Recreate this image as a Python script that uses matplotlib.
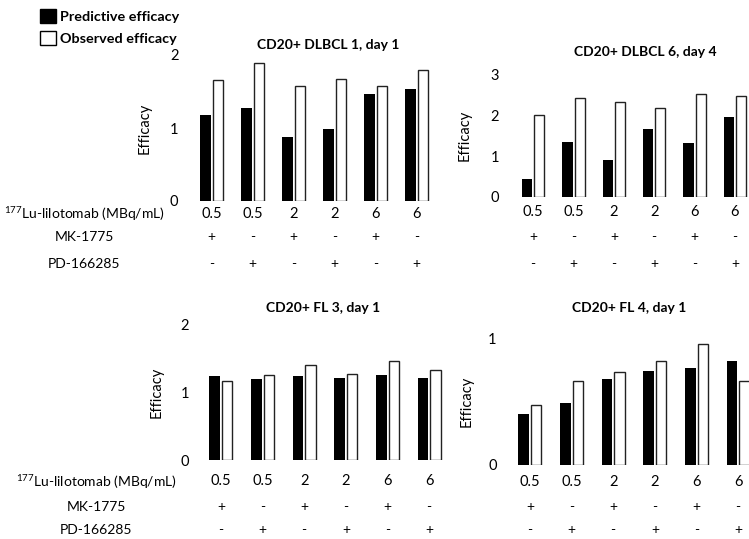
import numpy as np
import matplotlib
matplotlib.use("Agg")
import matplotlib.pyplot as plt
import matplotlib.transforms as mtransforms
from matplotlib.patches import Patch

plt.rcParams['font.family'] = ['Lato', 'DejaVu Sans']
plt.rcParams['mathtext.default'] = 'regular'

# treatment rows under each panel
doses = ['0.5', '0.5', '2', '2', '6', '6']
mk1775 = ['+', '-', '+', '-', '+', '-']
pd166285 = ['-', '+', '-', '+', '-', '+']

# efficacy
dlbcl1_pred = [1.18, 1.28, 0.88, 0.99, 1.47, 1.54]
dlbcl1_obs = [1.66, 1.89, 1.57, 1.67, 1.58, 1.80]
dlbcl6_pred = [0.43, 1.33, 0.90, 1.65, 1.31, 1.96]
dlbcl6_obs = [1.99, 2.41, 2.32, 2.18, 2.51, 2.47]
fl3_pred = [1.23, 1.19, 1.24, 1.20, 1.25, 1.21]
fl3_obs = [1.16, 1.25, 1.39, 1.27, 1.46, 1.32]
fl4_pred = [0.40, 0.49, 0.68, 0.74, 0.76, 0.82]
fl4_obs = [0.47, 0.66, 0.73, 0.82, 0.95, 0.66]

W, H = 749, 539
fig = plt.figure(figsize=(W/100, H/100), dpi=100)

def fx(x):
    return x / W

def fy(y):
    return 1 - y / H

def panel(left, top, width, height, pred, obs, ymax, title, title_xy,
          ylab_x, tick_pad, xlab_pad, row_y):
    ax = fig.add_axes([fx(left), fy(top + height), width / W, height / H])
    x = np.arange(len(pred))
    ax.bar(x - 0.15, pred, 0.26, color='black')
    ax.bar(x + 0.15, obs, 0.25, color='white', edgecolor='#222222', linewidth=1)
    ax.set_xlim(-0.5, 5.5)
    ax.set_ylim(0, ymax)
    ax.set_yticks(range(ymax + 1))
    ax.set_xticks(x, doses)
    ax.tick_params(axis='y', length=0, pad=tick_pad, labelsize=10.5)
    ax.tick_params(axis='x', length=0, pad=xlab_pad, labelsize=10.5)
    for s in ax.spines.values():
        s.set_visible(False)
    ax.set_ylabel('Efficacy', fontsize=10.5)
    ax.yaxis.set_label_coords((ylab_x - left) / width, 0.5)
    fig.text(fx(title_xy[0]), fy(title_xy[1]), title, ha='center', va='center',
             fontsize=10, fontweight='bold')
    trans = mtransforms.blended_transform_factory(ax.transData, fig.transFigure)
    for i in range(len(x)):
        ax.text(x[i], fy(row_y[0]), mk1775[i], transform=trans, ha='center',
                va='center', fontsize=10)
        ax.text(x[i], fy(row_y[1]), pd166285[i], transform=trans, ha='center',
                va='center', fontsize=10)
    return ax

panel(191, 55, 246, 146, dlbcl1_pred, dlbcl1_obs, 2, 'CD20+ DLBCL 1, day 1',
      (328, 45), 152, 9, 4, (237, 264))
panel(513, 74, 242, 123, dlbcl6_pred, dlbcl6_obs, 3, 'CD20+ DLBCL 6, day 4',
      (645, 52), 472, 10, 6, (237, 264))
panel(200, 324, 250, 136, fl3_pred, fl3_obs, 2, 'CD20+ FL 3, day 1',
      (323, 308), 164, 8, 10, (507, 530))
panel(509, 338, 250, 127, fl4_pred, fl4_obs, 1, 'CD20+ FL 4, day 1',
      (629, 308), 474, 9, 7, (507, 530))

# row labels on the left
for cx, ys in [(84, (214, 237, 264)), (96, (482, 507, 530))]:
    fig.text(fx(cx), fy(ys[0]), r'$^{177}$Lu-lilotomab (MBq/mL)', ha='center',
             va='center', fontsize=10)
    fig.text(fx(cx), fy(ys[1]), 'MK-1775', ha='center', va='center', fontsize=10)
    fig.text(fx(cx), fy(ys[2]), 'PD-166285', ha='center', va='center', fontsize=10)

handles = [Patch(facecolor='black', edgecolor='black'),
           Patch(facecolor='white', edgecolor='black')]
fig.legend(handles, ['Predictive efficacy', 'Observed efficacy'],
           loc='upper left', bbox_to_anchor=(fx(27), fy(-4)), frameon=False,
           handlelength=1.1, handleheight=1.1, handletextpad=0.3,
           labelspacing=0.55, prop={'weight': 'bold', 'size': 10.4})

fig.savefig('out.png', dpi=100)
